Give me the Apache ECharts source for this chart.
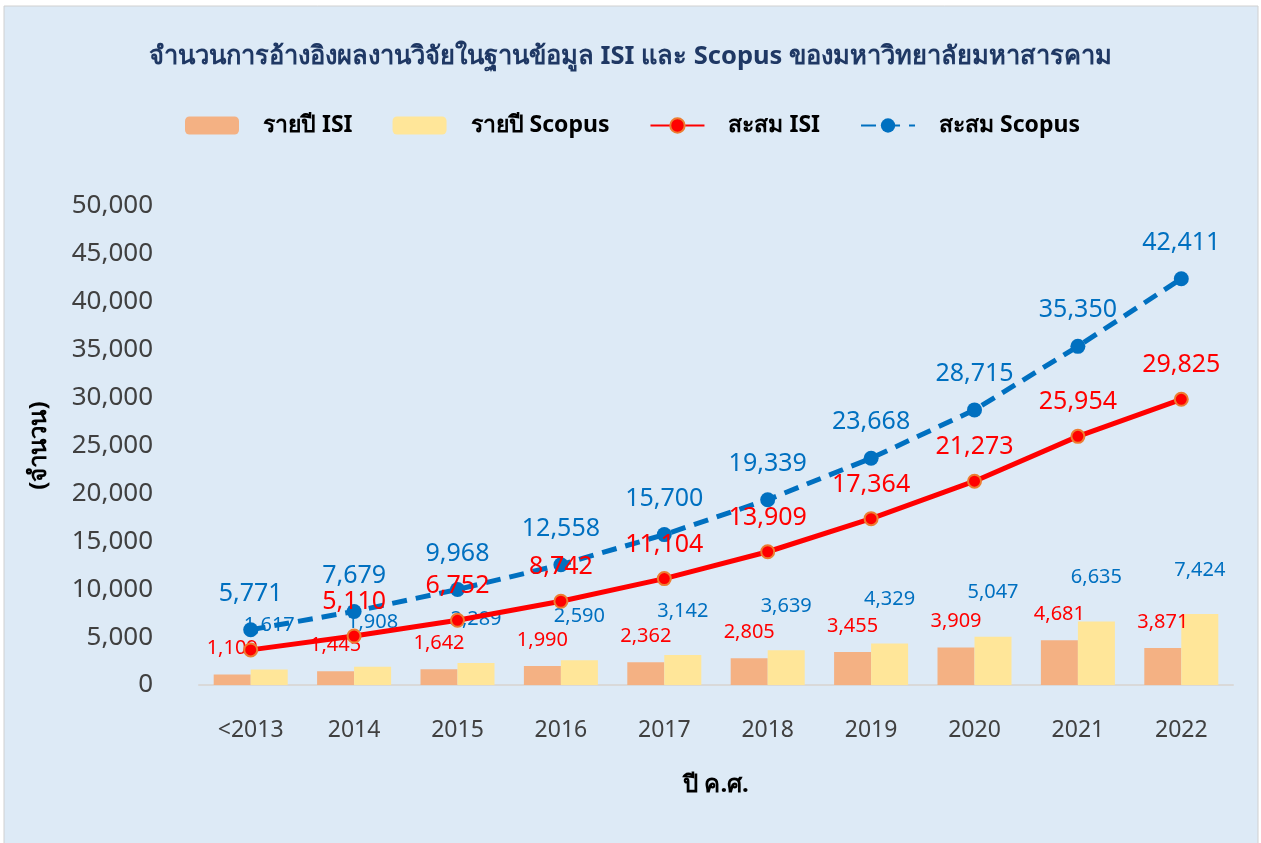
<!DOCTYPE html>
<html><head><meta charset="utf-8">
<script src="https://cdn.jsdelivr.net/npm/echarts@6/dist/echarts.min.js"></script>
<style>html,body{margin:0;padding:0;background:#fff}#c{width:1261px;height:843px}</style>
</head><body><div id="c"></div>
<script>
const categories = ['<2013','2014','2015','2016','2017','2018','2019','2020','2021','2022'];
const annualISI = [1109,1445,1642,1990,2362,2805,3455,3909,4681,3871];
const annualScopus = [1617,1908,2289,2590,3142,3639,4329,5047,6635,7424];
const cumISI = [3665,5110,6752,8742,11104,13909,17364,21273,25954,29825];
const cumScopus = [5771,7679,9968,12558,15700,19339,23668,28715,35350,42411];
const yTicks = [0,5000,10000,15000,20000,25000,30000,35000,40000,45000,50000];

const FONT = '"Noto Sans", "DejaVu Sans", sans-serif';
const fmt = v => Number(v).toLocaleString('en-US');
const chart = echarts.init(document.getElementById('c'));
chart.setOption({
  backgroundColor: '#fff',
  graphic: [{type:'rect', shape:{x:4,y:6,width:1254,height:840}, style:{fill:'#DDEAF6', stroke:'#D0D0D0', lineWidth:1}, z:-10}],
  title: {text:'จำนวนการอ้างอิงผลงานวิจัยในฐานข้อมูล ISI และ Scopus ของมหาวิทยาลัยมหาสารคาม', left:'center', top:39,
    textStyle:{fontFamily:FONT, fontSize:25.5, fontWeight:'bold', color:'#1F3864'}},
  legend: {top:109, left:180, itemGap:40, itemWidth:54, itemHeight:18,
    textStyle:{fontFamily:FONT, fontSize:23, fontWeight:'bold', color:'#000', padding:[0,0,0,19]},
    data:['รายปี ISI','รายปี Scopus','สะสม ISI','สะสม Scopus']},
  grid: {left:199, right:28, top:206, bottom:158},
  xAxis: {type:'category', data:categories,
    axisLine:{lineStyle:{color:'#D9D9D9', width:2}}, axisTick:{show:false},
    axisLabel:{fontFamily:FONT, fontSize:23, color:'#404040', margin:34},
    name:'ปี ค.ศ.', nameLocation:'middle', nameGap:88,
    nameTextStyle:{fontFamily:FONT, fontSize:24, fontWeight:'bold', color:'#000'}},
  yAxis: {type:'value', min:0, max:50000, interval:5000,
    axisLabel:{fontFamily:FONT, fontSize:26, color:'#404040', margin:46, formatter:v=>fmt(v)},
    splitLine:{show:false}, axisLine:{show:false}, axisTick:{show:false},
    name:'(จำนวน)', nameLocation:'middle', nameGap:148, nameRotate:90,
    nameTextStyle:{fontFamily:FONT, fontSize:24, fontWeight:'bold', color:'#000'}},
  series: [
    {name:'รายปี ISI', type:'bar', data:annualISI, barWidth:37, barGap:'0%',
      itemStyle:{color:'#F4B183'},
      label:{show:true, position:'top', distance:16, fontFamily:FONT, fontSize:20, color:'#FF0000', formatter:p=>fmt(p.value)}},
    {name:'รายปี Scopus', type:'bar', data:annualScopus, barWidth:37,
      itemStyle:{color:'#FFE699'},
      label:{show:true, position:'top', distance:34, fontFamily:FONT, fontSize:20, color:'#0070C0', formatter:p=>fmt(p.value)}},
    {name:'สะสม ISI', type:'line', data:cumISI, symbol:'circle', symbolSize:13,
      lineStyle:{color:'#FF0000', width:5}, itemStyle:{color:'#FF0000', borderColor:'#ED7D31', borderWidth:2},
      label:{show:true, position:'top', distance:14, fontFamily:FONT, fontSize:25, color:'#FF0000',
        formatter:p=>p.dataIndex===0?'':fmt(p.value)}, z:5},
    {name:'สะสม Scopus', type:'line', data:cumScopus, symbol:'circle', symbolSize:15,
      lineStyle:{color:'#0070C0', width:5, type:[15,9]}, itemStyle:{color:'#0070C0'},
      label:{show:true, position:'top', distance:16, fontFamily:FONT, fontSize:25, color:'#0070C0', formatter:p=>fmt(p.value)}, z:4}
  ]
});
</script></body></html>
